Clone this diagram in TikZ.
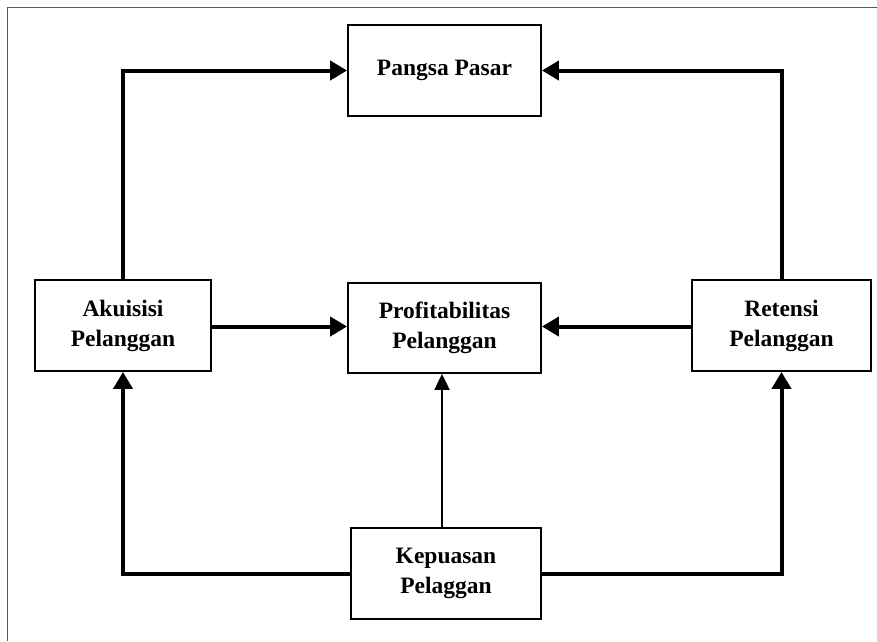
\documentclass[tikz,border=0pt]{standalone}
\usepackage{fontspec}
\setmainfont{Liberation Serif}
\usetikzlibrary{arrows.meta}
\begin{document}
\begin{tikzpicture}[x=1pt,y=-1pt,
  box/.style={draw=black, line width=1.8pt, inner sep=0pt, align=center,
    font=\fontsize{23.5}{30}\selectfont\bfseries},
  thickarrow/.style={line width=4pt, -{Triangle[length=17pt,width=19pt]}},
  thinarrow/.style={line width=2pt, -{Triangle[length=16pt,width=15pt]}}]
\useasboundingbox (0,0) rectangle (877,641);
\draw[gray!70!black, line width=1pt] (7,641) -- (7,7) -- (877,7);
\node[box, minimum width=193pt, minimum height=91pt] (pangsa) at (444.5,70.5) {Pangsa Pasar};
\node[box, minimum width=176pt, minimum height=91pt] (aku) at (123,325.5) {Akuisisi\\Pelanggan};
\node[box, minimum width=193pt, minimum height=90pt] (prof) at (444.5,328) {Profitabilitas\\Pelanggan};
\node[box, minimum width=179pt, minimum height=91pt] (ret) at (781.5,325.5) {Retensi\\Pelanggan};
\node[box, minimum width=190pt, minimum height=91pt] (kep) at (446,573.5) {Kepuasan\\Pelaggan};
\coordinate (kt) at ([xshift=-4pt]kep.north);
\draw[thickarrow] (aku.north) |- (pangsa.west);
\draw[thickarrow] (ret.north) |- (pangsa.east);
\draw[thickarrow] ([yshift=-1pt]aku.east) -- ([yshift=-1pt]aku.east -| prof.west);
\draw[thickarrow] ([yshift=-1pt]ret.west) -- ([yshift=-1pt]ret.west -| prof.east);
\draw[thinarrow] (kt) -- (kt |- prof.south);
\draw[thickarrow] (kep.west) -| (aku.south);
\draw[thickarrow] (kep.east) -| (ret.south);
\end{tikzpicture}
\end{document}
